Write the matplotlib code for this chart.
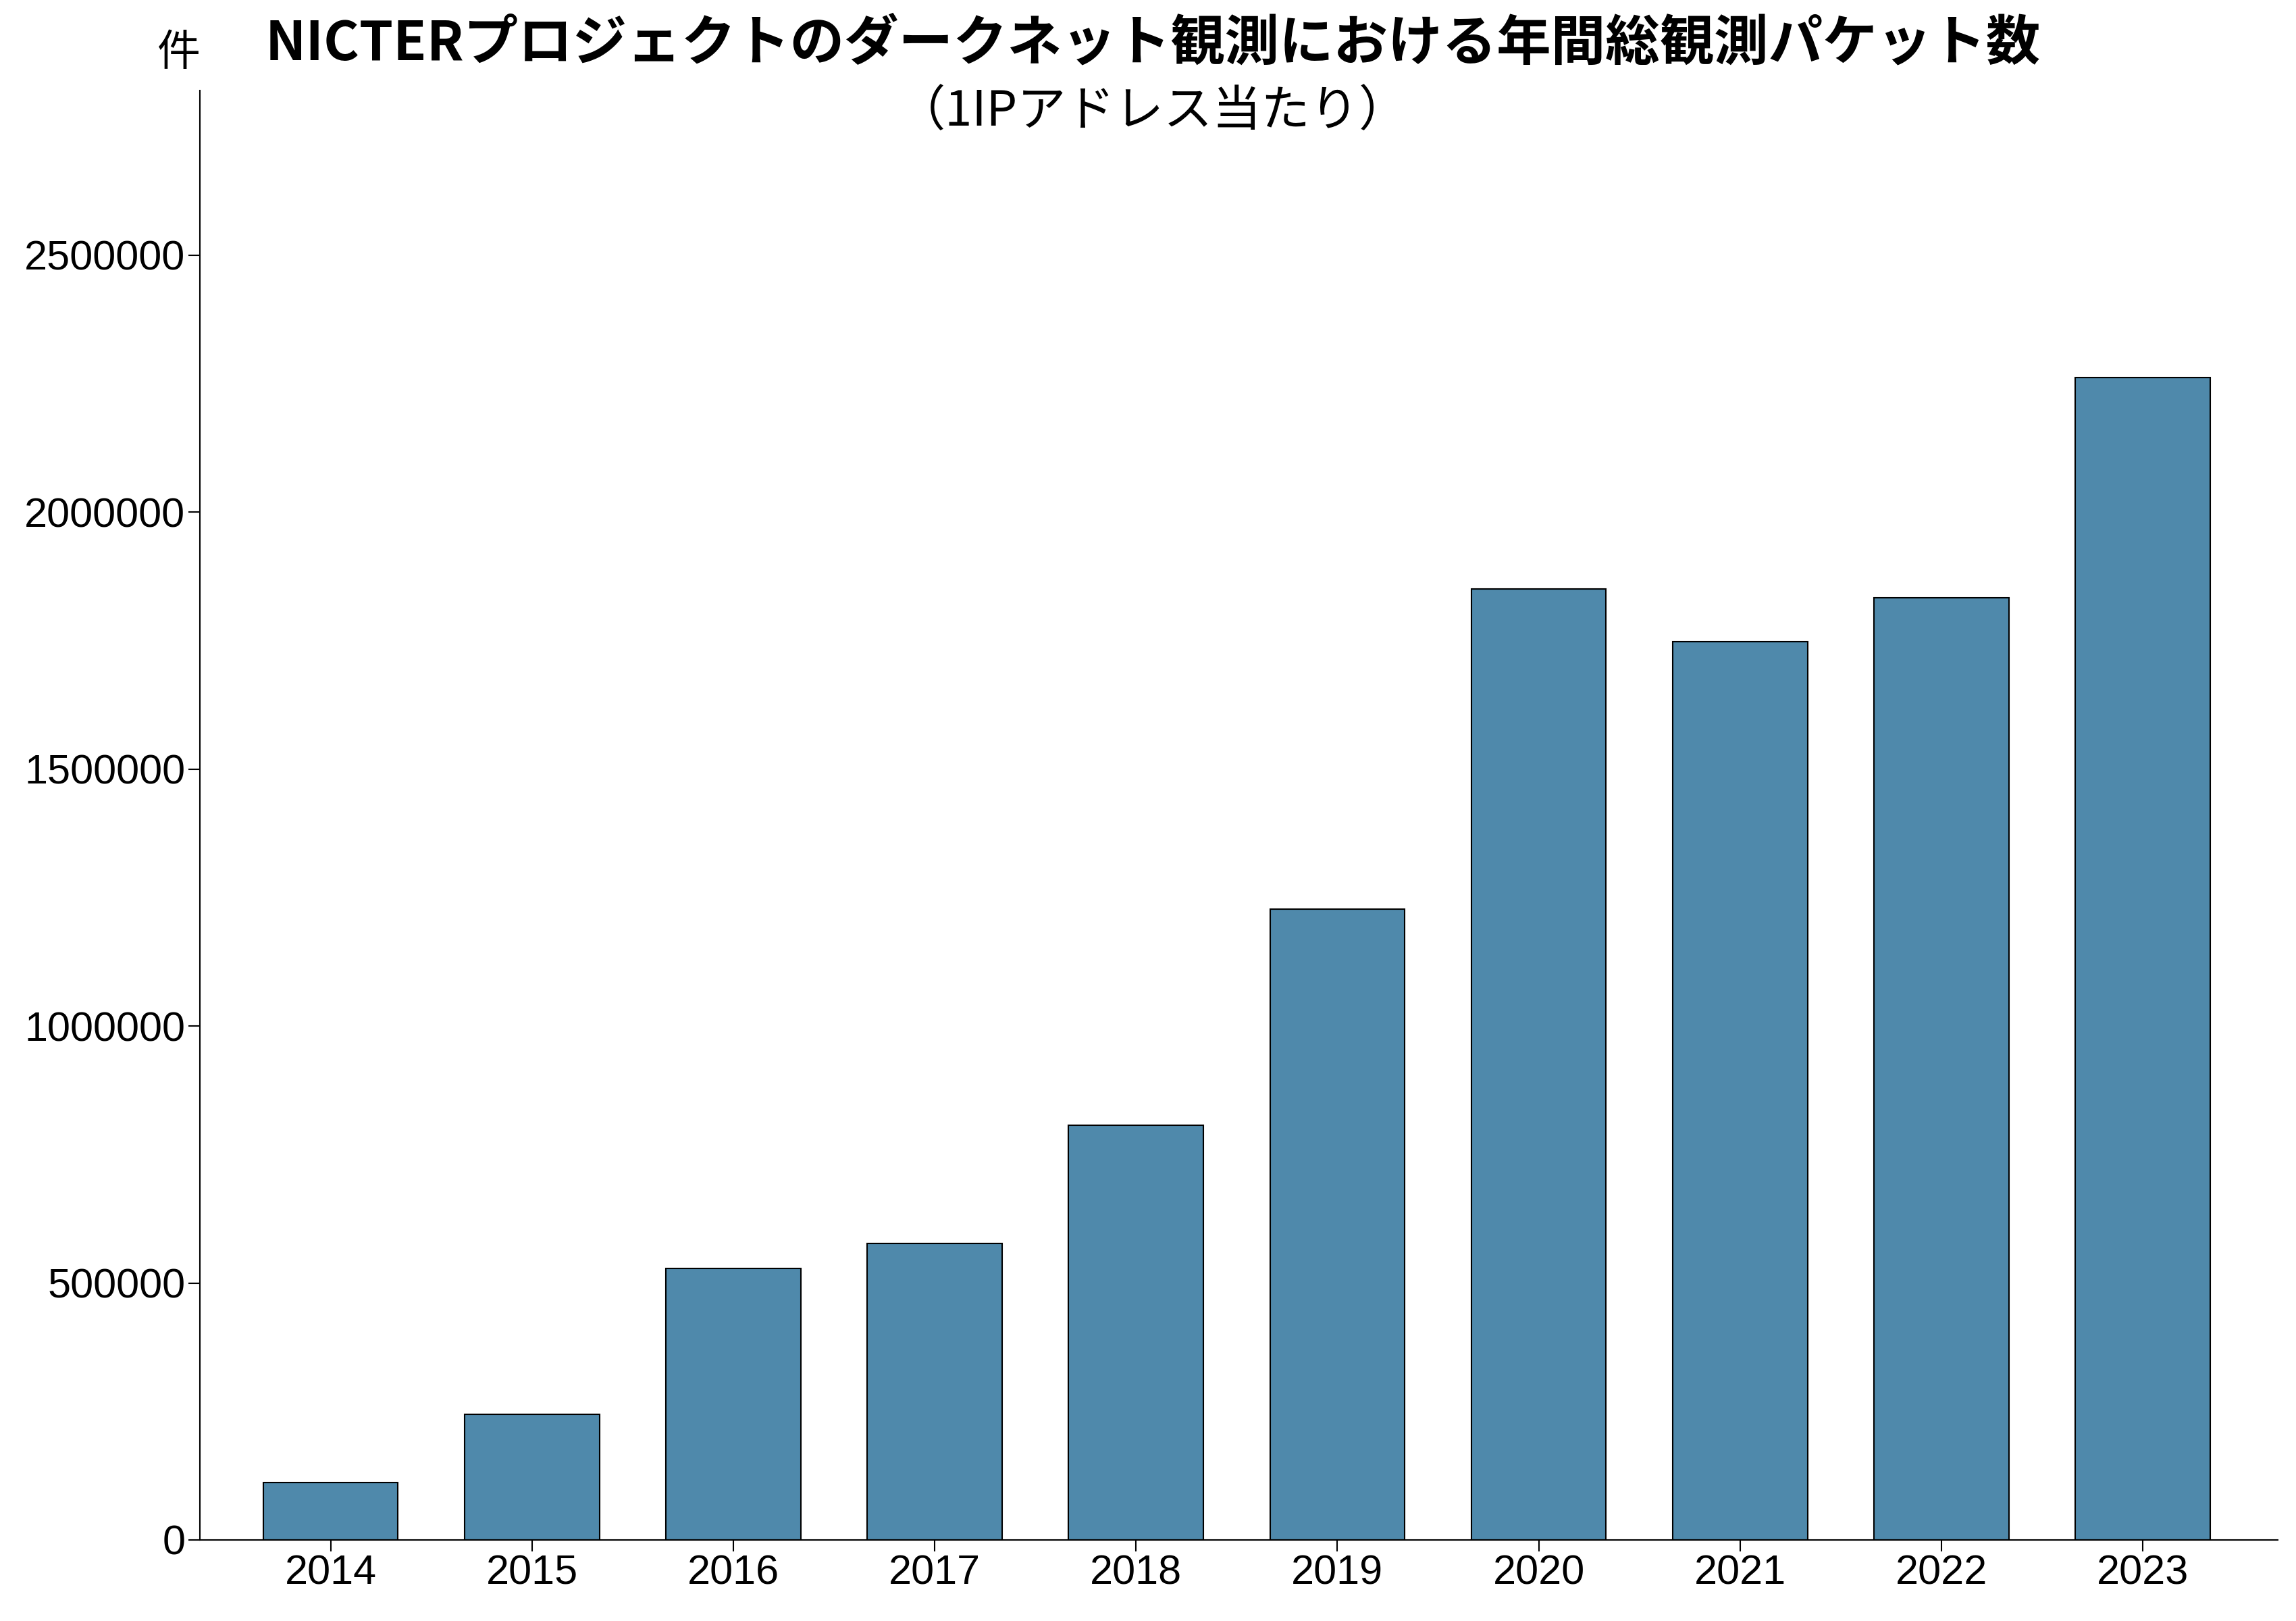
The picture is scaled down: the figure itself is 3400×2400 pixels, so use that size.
import matplotlib
matplotlib.use("Agg")
import matplotlib.pyplot as plt

years = ["2014","2015","2016","2017","2018","2019","2020","2021","2022","2023"]
packets = [112000, 244000, 528000, 577000, 807000, 1228000, 1851000, 1748000, 1834000, 2262000]
yticks = [0, 500000, 1000000, 1500000, 2000000, 2500000]

fig = plt.figure(figsize=(34, 24), dpi=100)
ax = fig.add_axes([0.087, 0.05, 0.905, 0.894])
x = range(len(years))
ax.bar(x, packets, width=0.67, color="#4f89ab", edgecolor="black", linewidth=1.5)
ax.set_xlim(-0.65, 9.67)
ax.set_ylim(0, 2820000)
ax.set_xticks(list(x))
ax.set_xticklabels(years, fontfamily="Liberation Sans", fontsize=44)
ax.set_yticks(yticks)
ax.set_yticklabels([str(v) for v in yticks], fontfamily="Liberation Sans", fontsize=44)
ax.tick_params(length=12, width=1.5)
for s in ["top", "right"]:
    ax.spines[s].set_visible(False)
for s in ["left", "bottom"]:
    ax.spines[s].set_linewidth(1.5)

fig.text(0.078, 0.967, "件", fontfamily="Noto Sans CJK JP", fontsize=46, ha="center", va="center")
fig.text(0.502, 0.973, "NICTERプロジェクトのダークネット観測における年間総観測パケット数",
         fontfamily="Noto Sans CJK JP", fontweight="bold", fontsize=58, ha="center", va="center")
fig.text(0.502, 0.931, "（1IPアドレス当たり）", fontfamily="Noto Sans CJK JP",
         fontsize=52, ha="center", va="center")
fig.savefig("out.png", dpi=100)
